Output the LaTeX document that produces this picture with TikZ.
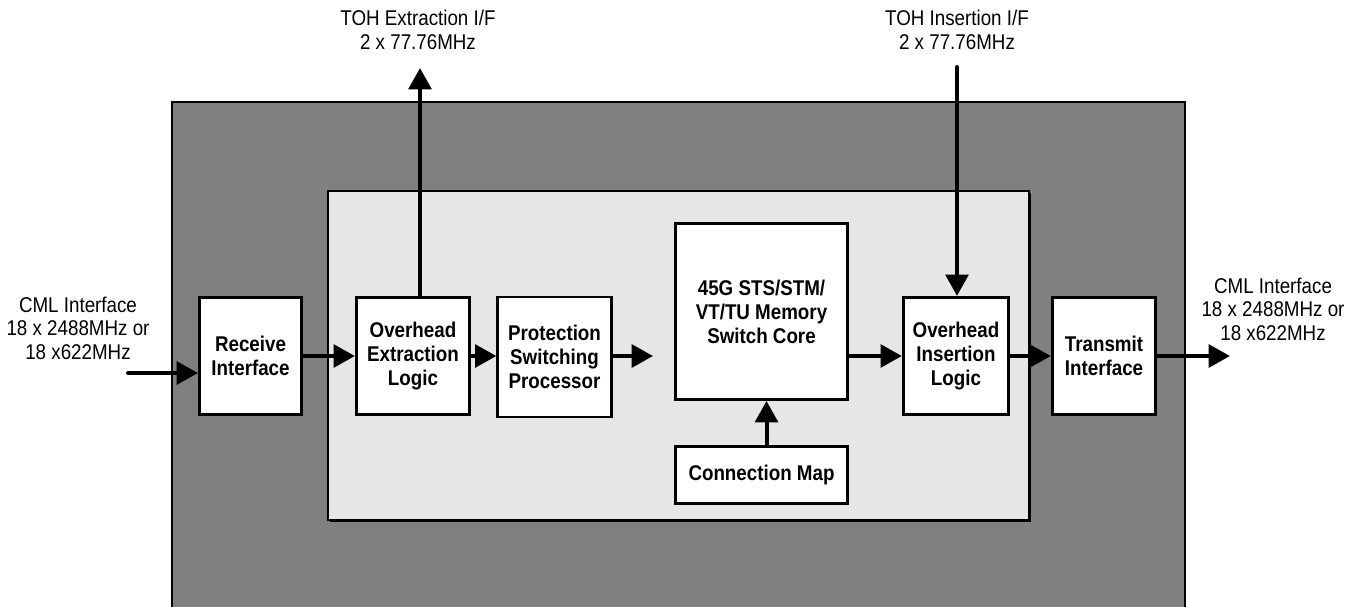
\documentclass[tikz,border=0pt]{standalone}
\usepackage{fontspec}
\setmainfont{Liberation Sans}[FakeStretch=0.88]
\usetikzlibrary{arrows.meta,calc}
\definecolor{dk}{HTML}{808080}
\definecolor{lt}{HTML}{E6E6E6}
\begin{document}
\begin{tikzpicture}[x=0.75pt,y=-0.75pt,
  blk/.style={draw=black,line width=2.2pt,fill=white,align=center,inner sep=0pt,
    font=\fontsize{16}{18}\selectfont\bfseries},
  lbl/.style={align=center,inner sep=0pt,font=\fontsize{16}{17.6}\selectfont},
  arr/.style={line width=3pt,line cap=round,-{Triangle[length=16pt,width=17pt]}}]
\useasboundingbox (0,0) rectangle (1357,607);
% outer chip
\fill[dk] (172,102) rectangle (1185,607);
\draw[black,line width=0.8pt] (172,607) -- (172,102) -- (1185,102) -- (1185,607);
% inner core area
\fill[black] (330,193) rectangle (1031,522);
\filldraw[fill=lt,draw=black,line width=0.8pt] (328,191) rectangle (1029,520);
% blocks
\node[blk,minimum width=76.5pt,minimum height=88pt] (rx) at (250.5,356) {Receive\\Interface};
\node[blk,minimum width=85pt,minimum height=88pt] (oel) at (413,356) {Overhead\\Extraction\\Logic};
\node[blk,minimum width=85pt,minimum height=90pt] (psp) at (554.5,357) {Protection\\Switching\\Processor};
\node[blk,minimum width=129pt,minimum height=132pt] (core) at (761.5,311.5) {45G STS/STM/\\VT/TU Memory\\Switch Core};
\node[blk,minimum width=129pt,minimum height=43pt] (cm) at (761.5,475) {Connection Map};
\node[blk,minimum width=79pt,minimum height=88pt] (oil) at (956,356) {Overhead\\Insertion\\Logic};
\node[blk,minimum width=77.5pt,minimum height=88pt] (tx) at (1104,356) {Transmit\\Interface};
% labels
\node[lbl] (tohx) at (418,30) {TOH Extraction I/F\\2 x 77.76MHz};
\node[lbl] (tohi) at (957,30) {TOH Insertion I/F\\2 x 77.76MHz};
\node[lbl] (cmlin) at (78,328) {CML Interface\\18 x 2488MHz or\\18 x622MHz};
\node[lbl] (cmlout) at (1273,309) {CML Interface\\18 x 2488MHz or\\18 x622MHz};
% free ends
\coordinate (in) at (128,373);
\coordinate (out) at (1230,356);
\coordinate (pspend) at (653,356);
\coordinate (extop) at (420,68);
\coordinate (instop) at (957,67);
% connectors
\draw[arr] (in) -- (in -| rx.west);
\draw[arr] (rx.east |- 0,356) -- (oel.west |- 0,356);
\draw[arr] (oel.east |- 0,356) -- (psp.west |- 0,356);
\draw[arr] (psp.east |- pspend) -- (pspend);
\draw[arr] (core.east |- 0,356) -- (oil.west |- 0,356);
\draw[arr] (oil.east |- 0,356) -- (tx.west |- 0,356);
\draw[arr] (tx.east |- out) -- (out);
\draw[arr] (oel.north -| extop) -- (extop);
\draw[arr] (instop) -- (instop |- oil.north);
\draw[arr] ($(cm.north)+(5,0)$) -- ($(core.south)+(5,0)$);
\end{tikzpicture}
\end{document}
